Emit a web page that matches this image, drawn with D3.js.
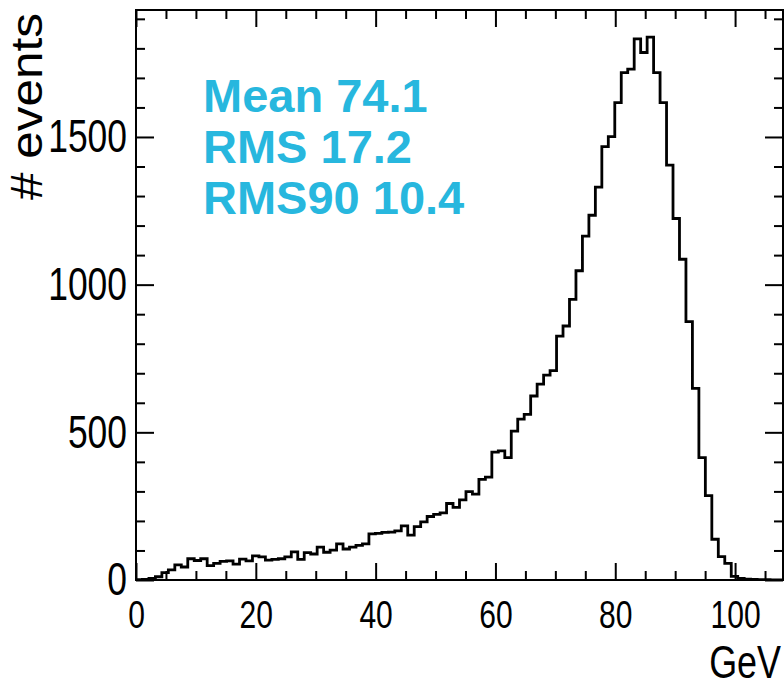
<!DOCTYPE html>
<html>
<head>
<meta charset="utf-8">
<script src="https://cdn.jsdelivr.net/npm/d3@7/dist/d3.min.js"></script>
<style>
  html, body { margin: 0; padding: 0; background: #fff; }
  svg { display: block; }
  text { font-family: "Liberation Sans", Arial, Helvetica, sans-serif; }
</style>
</head>
<body>
<svg id="chart" width="784" height="688"></svg>
<script>
// Histogram: 100 bins from 0 to 108 GeV
const xRange = [0, 108];
const nBins = 100;
const counts = [
  1, 2, 5, 11, 25, 34, 51, 44, 72, 66,
  72, 49, 56, 63, 65, 54, 71, 65, 82, 78,
  67, 70, 72, 78, 95, 70, 93, 88, 111, 94,
  101, 122, 105, 111, 117, 122, 156, 158, 161, 162,
  166, 183, 152, 181, 197, 215, 222, 227, 259, 246,
  271, 299, 291, 341, 348, 433, 437, 414, 504, 545,
  561, 623, 663, 694, 709, 826, 860, 950, 1047, 1164,
  1235, 1330, 1467, 1501, 1616, 1718, 1730, 1832, 1786, 1838,
  1718, 1616, 1405, 1224, 1086, 875, 649, 414, 286, 138,
  79, 56, 12, 5, 3, 2, 1, 1, 0, 0
];
const xMajorTicks = [0, 20, 40, 60, 80, 100];
const xMinorStep = 5;
const yMajorTicks = [0, 500, 1000, 1500];
const yMinorStep = 100;
const xTitle = "GeV";
const yTitle = "# events";
const statsLines = ["Mean 74.1", "RMS 17.2", "RMS90 10.4"];

const svg = d3.select("#chart");
const frame = { left: 136, right: 783, top: 10, bottom: 580 };

const yMax = d3.max(counts) * 1.05;
const x = d3.scaleLinear().domain(xRange).range([frame.left, frame.right]);
const y = d3.scaleLinear().domain([0, yMax]).range([frame.bottom, frame.top]);

const xMinor = d3.range(xRange[0], xRange[1] + 1e-9, xMinorStep).filter(v => !xMajorTicks.includes(v));
const yMinor = d3.range(0, yMax, yMinorStep).filter(v => !yMajorTicks.includes(v));

const xLabelSize = 39, yLabelSize = 46, squeeze = 0.77;

// tick marks on all four sides, pointing inwards
function ticks(axisFn, scale, values, size, pos) {
  const g = svg.append("g")
    .attr("transform", pos)
    .call(axisFn(scale).tickValues(values).tickSize(-size).tickFormat(""));
  g.select(".domain").remove();
  g.selectAll(".tick line").attr("stroke", "#000").attr("stroke-width", 2);
  return g;
}
ticks(d3.axisBottom, x, xMinor, 9, `translate(0,${frame.bottom})`);
ticks(d3.axisTop, x, xMinor, 9, `translate(0,${frame.top})`);
ticks(d3.axisTop, x, xMajorTicks, 17, `translate(0,${frame.top})`);
ticks(d3.axisLeft, y, yMinor, 9, `translate(${frame.left},0)`);
ticks(d3.axisRight, y, yMinor, 9, `translate(${frame.right},0)`);
ticks(d3.axisRight, y, yMajorTicks, 18, `translate(${frame.right},0)`);

// labelled axes
const xAxis = svg.append("g")
  .attr("transform", `translate(0,${frame.bottom})`)
  .call(d3.axisBottom(x).tickValues(xMajorTicks).tickSize(-17).tickPadding(20).tickFormat(d3.format("d")));
xAxis.select(".domain").remove();
xAxis.selectAll(".tick line").attr("stroke", "#000").attr("stroke-width", 2);
xAxis.selectAll(".tick text")
  .attr("fill", "#000")
  .style("font-size", xLabelSize + "px")
  .attr("transform", `scale(${squeeze},1)`);

const yAxis = svg.append("g")
  .attr("transform", `translate(${frame.left},0)`)
  .call(d3.axisLeft(y).tickValues(yMajorTicks).tickSize(-18).tickPadding(9).tickFormat(d3.format("d")));
yAxis.select(".domain").remove();
yAxis.selectAll(".tick line").attr("stroke", "#000").attr("stroke-width", 2);
yAxis.selectAll(".tick text")
  .attr("fill", "#000")
  .style("font-size", yLabelSize + "px")
  .attr("x", -9 / squeeze)
  .attr("transform", `scale(${squeeze},1)`);

// histogram outline
const binW = (xRange[1] - xRange[0]) / nBins;
const pts = [[xRange[0], 0]];
counts.forEach((c, i) => {
  pts.push([xRange[0] + i * binW, c]);
  pts.push([xRange[0] + (i + 1) * binW, c]);
});
pts.push([xRange[1], 0]);

svg.append("clipPath").attr("id", "plotClip")
  .append("rect")
  .attr("x", frame.left).attr("y", frame.top)
  .attr("width", frame.right - frame.left).attr("height", frame.bottom - frame.top);

svg.append("path")
  .datum(pts)
  .attr("clip-path", "url(#plotClip)")
  .attr("fill", "none")
  .attr("stroke", "#000")
  .attr("stroke-width", 2.8)
  .attr("stroke-linejoin", "miter")
  .attr("d", d3.line().x(d => x(d[0])).y(d => y(d[1])));

// frame
svg.append("rect")
  .attr("x", frame.left).attr("y", frame.top)
  .attr("width", frame.right - frame.left).attr("height", frame.bottom - frame.top)
  .attr("fill", "none").attr("stroke", "#000").attr("stroke-width", 2);

// axis titles
svg.append("text")
  .attr("transform", `translate(781,678) scale(0.78,1)`)
  .attr("text-anchor", "end")
  .style("font-size", "46px")
  .attr("fill", "#000")
  .text(xTitle);

svg.append("text")
  .attr("transform", `translate(42,13) rotate(-90) scale(1.1,1)`)
  .attr("text-anchor", "end")
  .style("font-size", "45px")
  .attr("fill", "#000")
  .text(yTitle);

// statistics box text
svg.append("g").selectAll("text")
  .data(statsLines)
  .join("text")
  .attr("x", 203)
  .attr("y", (d, i) => 112 + i * 51)
  .style("font-size", "47px")
  .style("font-weight", "bold")
  .attr("fill", "#27b7de")
  .text(d => d);
</script>
</body>
</html>
